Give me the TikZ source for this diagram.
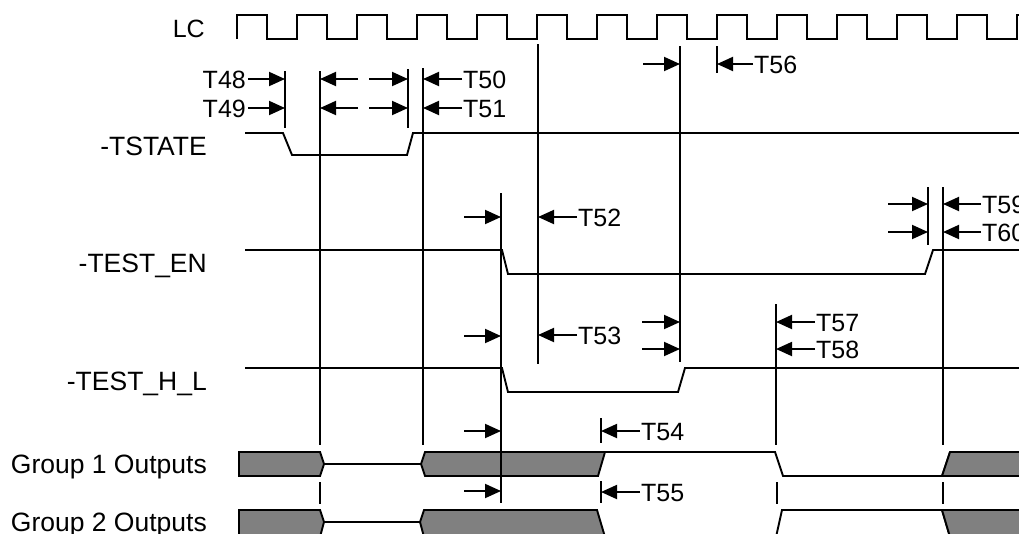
\documentclass[tikz,border=0pt]{standalone}
\usepackage{fontspec}
\setmainfont{Liberation Sans}
\usetikzlibrary{arrows.meta}
\tikzset{
  sig/.style={line width=1.9pt, line join=miter},
  vline/.style={line width=1.9pt},
  arr/.style={line width=1.9pt, -{Triangle[length=16pt,width=14pt]}},
  busfill/.style={fill={rgb,255:red,128;green,128;blue,128}, draw=black, line width=1.9pt, line join=miter},
  lbl/.style={inner sep=0pt, anchor=base east, font=\fontsize{26.5}{30}\selectfont},
  tl/.style={inner sep=0pt, anchor=base west, font=\fontsize{25}{30}\selectfont},
  tr/.style={inner sep=0pt, anchor=base east, font=\fontsize{25}{30}\selectfont}
}
\begin{document}
\begin{tikzpicture}[x=1pt,y=-1pt]
\useasboundingbox (0,0) rectangle (1019,533);
\clip (0,0) rectangle (1019,533);
% left labels
\node[lbl, font=\fontsize{25}{28}\selectfont] (lc) at (205,37.5) {LC};
\node[lbl] (ts) at (207,155) {-TSTATE};
\node[lbl] (te) at (207,272) {-TEST\_EN};
\node[lbl] (th) at (207,390) {-TEST\_H\_L};
\node[lbl] (g1) at (207,473) {Group 1 Outputs};
\node[lbl] (g2) at (207,531) {Group 2 Outputs};
% clock
\draw[sig] (237,39) foreach \k in {0,...,12} { -- ++(0,-24) -- ++(30,0) -- ++(0,24) -- ++(30,0) } -- ++(0,-24) -- ++(12,0);
% -TSTATE
\draw[sig] (245,133) -- (283,133) -- (292,155) -- (407,155) -- (413,133) -- (1025,133);
% -TEST_EN
\draw[sig] (245,250) -- (502,250) -- (508,274) -- (925,274) -- (933,250) -- (1025,250);
% -TEST_H_L
\draw[sig] (245,368) -- (502,368) -- (508,392) -- (678,392) -- (685,368) -- (1025,368);
% Group 1 bus
\draw[busfill] (239,452) -- (320,452) -- (324,464) -- (320,476) -- (239,476) -- cycle;
\draw[sig] (324,464) -- (421,464);
\draw[busfill] (421,464) -- (425,452) -- (605,452) -- (598,476) -- (425,476) -- cycle;
\draw[sig] (605,452) -- (775,452) -- (783,476) -- (942,476) -- (950,452);
\draw[busfill] (942,476) -- (950,452) -- (1030,452) -- (1030,476) -- cycle;
% Group 2 bus
\draw[busfill] (239,510) -- (320,510) -- (324,522) -- (320,537) -- (239,537) -- cycle;
\draw[sig] (324,522) -- (420,522);
\draw[busfill] (420,522) -- (424,510) -- (597,510) -- (605,537) -- (424,537) -- cycle;
\draw[sig] (605,537) -- (776,537) -- (782,510) -- (942,510) -- (950,537);
\draw[busfill] (942,510) -- (1030,510) -- (1030,537) -- (950,537) -- cycle;
% vertical reference lines
\draw[vline] (285,71) -- (285,128);
\draw[vline] (320,71) -- (320,445);
\draw[vline] (320,482) -- (320,504);
\draw[vline] (408,69) -- (408,128);
\draw[vline] (423,68) -- (423,445);
\draw[vline] (501,193) -- (501,503);
\draw[vline] (538,44) -- (538,364);
\draw[vline] (680,46) -- (680,362);
\draw[vline] (717,46) -- (717,73);
\draw[vline] (776,304) -- (776,445);
\draw[vline] (777,482) -- (777,504);
\draw[vline] (928,187) -- (928,245);
\draw[vline] (943,187) -- (943,445);
\draw[vline] (943,482) -- (943,504);
\draw[vline] (601,418) -- (601,443);
\draw[vline] (601,481) -- (601,503);
% T48 / T49
\node[tr] (t48) at (246,88) {T48};
\node[tr] (t49) at (246,117) {T49};
\draw[arr] (248,79) -- (285,79);
\draw[arr] (248,108) -- (285,108);
\draw[arr] (358,79) -- (320,79);
\draw[arr] (369,79) -- (408,79);
\draw[arr] (358,108) -- (320,108);
\draw[arr] (369,108) -- (408,108);
% T50 / T51
\node[tl] (t50) at (463,88) {T50};
\node[tl] (t51) at (463,117) {T51};
\draw[arr] (462,79) -- (423,79);
\draw[arr] (462,108) -- (423,108);
% T56
\draw[arr] (643,64) -- (680,64);
\draw[arr] (753,64) -- (717,64);
\node[tl] (t56) at (754,73) {T56};
% T52
\draw[arr] (464,217) -- (501,217);
\draw[arr] (577,217) -- (538,217);
\node[tl] (t52) at (578,226) {T52};
% T53
\draw[arr] (464,336) -- (501,336);
\draw[arr] (577,335) -- (538,335);
\node[tl] (t53) at (578,344) {T53};
\draw[arr] (642,322) -- (680,322);
\draw[arr] (642,349) -- (680,349);
% T57 / T58
\draw[arr] (815,322) -- (776,322);
\draw[arr] (815,349) -- (776,349);
\node[tl] (t57) at (816,331) {T57};
\node[tl] (t58) at (816,358) {T58};
% T59 / T60
\draw[arr] (888,204) -- (928,204);
\draw[arr] (888,232) -- (928,232);
\draw[arr] (981,204) -- (943,204);
\draw[arr] (981,232) -- (943,232);
\node[tl] (t59) at (982,213) {T59};
\node[tl] (t60) at (982,241) {T60};
% T54 / T55
\draw[arr] (464,431) -- (501,431);
\draw[arr] (464,491) -- (501,491);
\draw[arr] (640,431) -- (601,431);
\draw[arr] (640,492) -- (601,492);
\node[tl] (t54) at (641,440) {T54};
\node[tl] (t55) at (641,501) {T55};
\end{tikzpicture}
\end{document}
